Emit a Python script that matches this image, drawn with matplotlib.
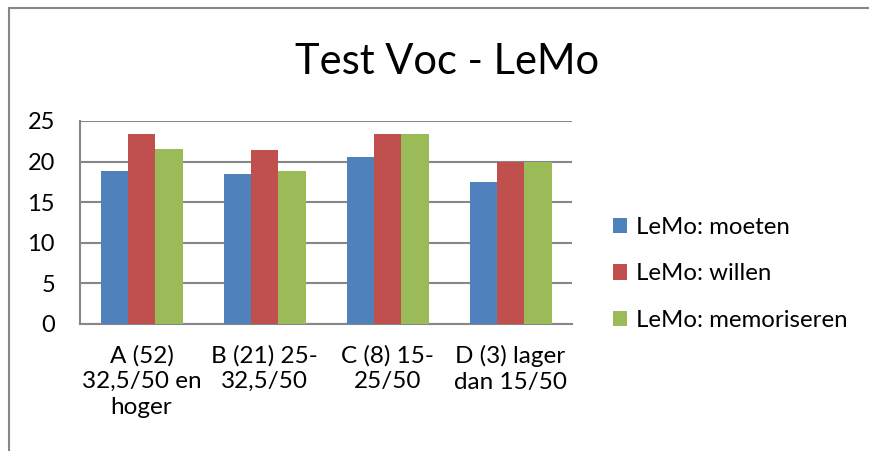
import matplotlib.pyplot as plt
import numpy as np
from matplotlib.patches import Rectangle

plt.rcParams['font.family'] = ['Lato', 'DejaVu Sans']

# data
categories = ["A (52)\n32,5/50 en\nhoger", "B (21) 25-\n32,5/50",
              "C (8) 15-\n25/50", "D (3) lager\ndan 15/50"]
moeten = [18.9, 18.5, 20.6, 17.5]
willen = [23.4, 21.4, 23.4, 20.0]
memoriseren = [21.5, 18.9, 23.4, 20.0]
series_names = ["LeMo: moeten", "LeMo: willen", "LeMo: memoriseren"]
colors = ["#4F81BD", "#C0504D", "#9BBB59"]

fig = plt.figure(figsize=(8.69, 4.51), dpi=100)
# outer chart border (clipped by the image on right/bottom)
fig.patches.append(Rectangle((8.5 / 869, -0.1), 2, 1.1 - 8.5 / 451,
                             transform=fig.transFigure, fill=False,
                             edgecolor="#878787", linewidth=1.5))

ax = fig.add_axes([80 / 869, 1 - 324 / 451, 492 / 869, 203 / 451])

x = np.arange(len(categories))
w = 1 / 4.5  # excel gap width 150%
for i, (vals, name, c) in enumerate(zip([moeten, willen, memoriseren], series_names, colors)):
    ax.bar(x + (i - 1) * w, vals, width=w, color=c, label=name, zorder=3)

ax.set_xlim(-0.5, len(categories) - 0.5)
ax.set_ylim(0, 25)
ax.set_yticks([0, 5, 10, 15, 20, 25])
ax.yaxis.grid(True, color="#878787", linewidth=1.5, zorder=0)
ax.set_xticks(x)
ax.set_xticklabels(categories, fontsize=17.5, linespacing=1.27)
ax.tick_params(axis="y", length=0, pad=18, labelsize=17)
ax.tick_params(axis="x", length=0, pad=15)
for s in ax.spines.values():
    s.set_color("#878787")
    s.set_linewidth(1.5)
ax.spines["top"].set_visible(False)
ax.spines["right"].set_visible(False)

fig.text(447 / 869, 1 - 62 / 451, "Test Voc - LeMo", fontsize=30,
         ha="center", va="center")

ax.legend(loc="center left", bbox_to_anchor=(613 / 869, 1 - 274 / 451),
          bbox_transform=fig.transFigure, frameon=False, fontsize=17.3,
          handlelength=0.6, handleheight=0.6, handletextpad=0.35,
          labelspacing=1.05, borderpad=0, borderaxespad=0)

fig.savefig("out.png", dpi=100)
